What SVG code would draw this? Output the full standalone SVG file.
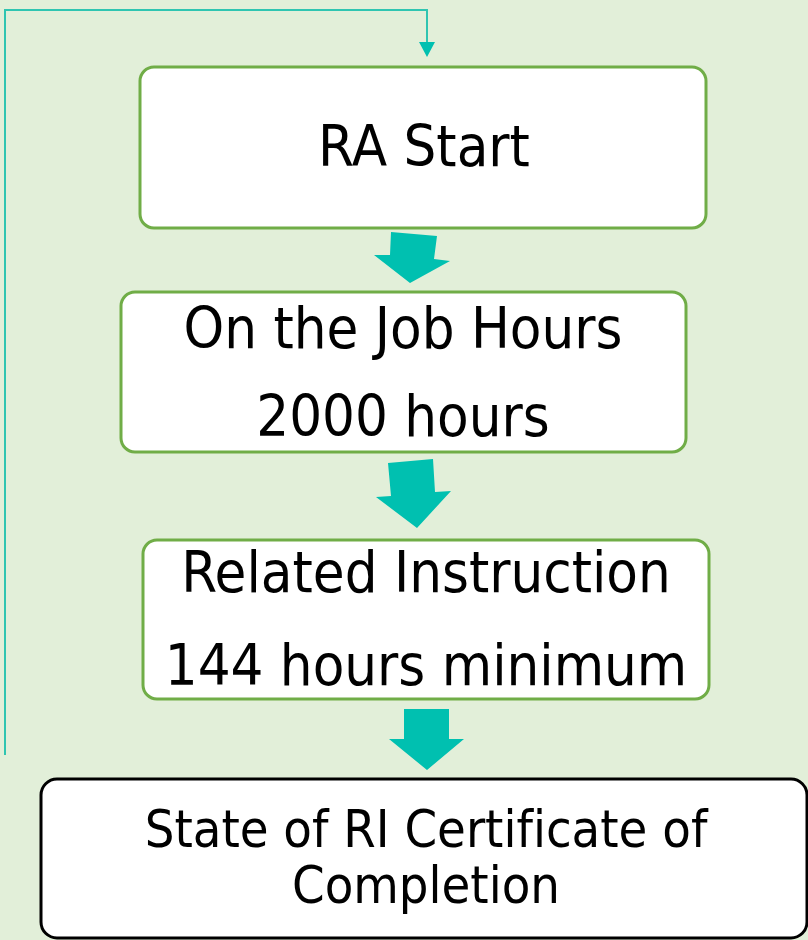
<svg xmlns="http://www.w3.org/2000/svg" width="808" height="940" viewBox="0 0 808 940">
  <style>
    .step { fill: #ffffff; stroke: #70ad47; stroke-width: 3; }
    .final { fill: #ffffff; stroke: #000000; stroke-width: 3; }
    .label { font-family: "DejaVu Sans Condensed", "DejaVu Sans", sans-serif; font-size: 57.5px; fill: #000000; text-anchor: middle; font-variant-ligatures: none; }
    .small { font-size: 52px; }
    .block-arrow { fill: #00c0b0; }
    .loop { fill: none; stroke: #2fc5b1; stroke-width: 2; }
  </style>

  <!-- background -->
  <rect x="0" y="0" width="808" height="940" fill="#e2efd9"/>

  <!-- connectors -->
  <g id="connectors">
    <polyline class="loop" points="5,755 5,10 427,10 427,42"/>
    <path d="M419,42 L435,42 L427,57 Z" fill="#00c0b0"/>
    <polygon class="block-arrow" points="391,232 437,236 434,259 450,261 410,283 374,255 390,255"/>
    <polygon class="block-arrow" points="388,463 433,459 435,492 451,491 417,528 376,497 391,496"/>
    <polygon class="block-arrow" points="404,709 449,709 449,739 464,739 427,770 389,739 404,739"/>
  </g>

  <g id="ra-start">
    <rect class="step" x="140" y="67" width="566" height="161" rx="14"/>
    <text class="label" x="424" y="166">RA Start</text>
  </g>

  <g id="on-the-job">
    <rect class="step" x="121" y="292" width="565" height="160" rx="14"/>
    <text class="label" x="403" y="348">On the Job Hours</text>
    <text class="label" x="403" y="436">2000 hours</text>
  </g>

  <g id="related-instruction">
    <rect class="step" x="143" y="540" width="566" height="159" rx="14"/>
    <text class="label" x="426" y="592">Related Instruction</text>
    <text class="label" x="426" y="685">144 hours minimum</text>
  </g>

  <g id="certificate">
    <rect class="final" x="41" y="779" width="766" height="159" rx="16"/>
    <text class="label small" x="426" y="847">State of RI Certificate of</text>
    <text class="label small" x="426" y="903">Completion</text>
  </g>
</svg>
